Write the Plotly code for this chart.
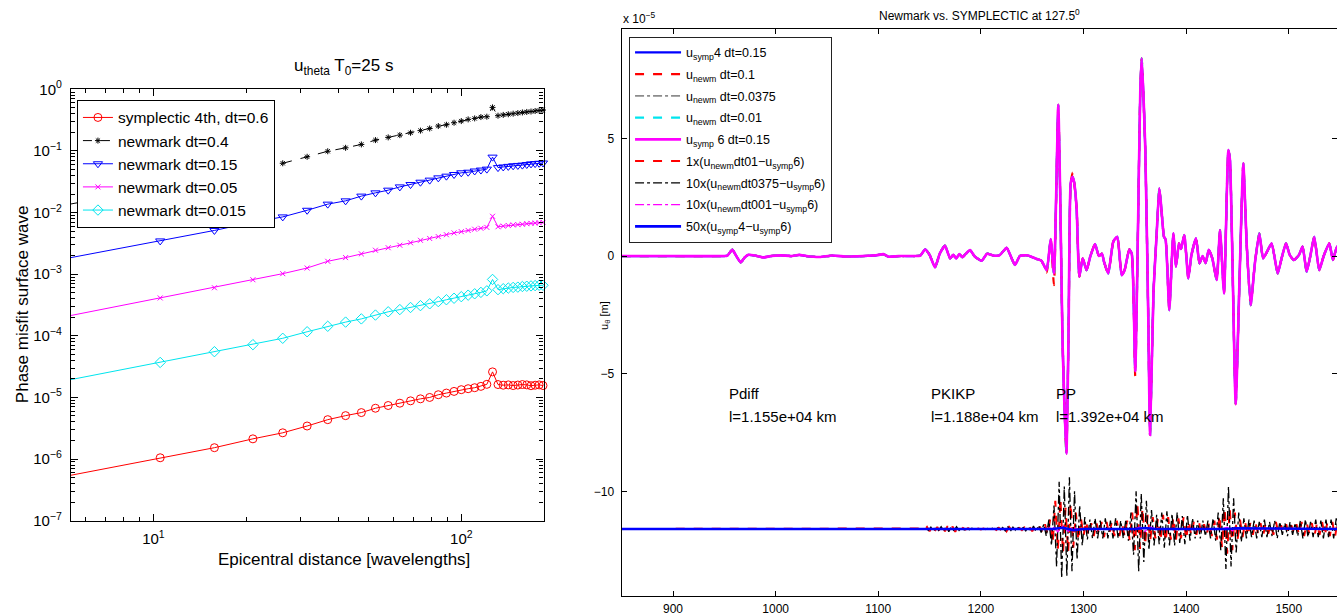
import plotly.graph_objects as go

FONT = "Liberation Sans, Arial, Helvetica, sans-serif"

# ---------------- left panel data ----------------
dist_wavelengths = [5.4, 10.52, 15.78, 21.04, 26.3, 31.56, 36.82, 42.08, 47.34, 52.6,
                    57.86, 63.12, 68.38, 73.64, 78.9, 84.16, 89.42, 94.68, 99.94, 105.2,
                    110.46, 115.72, 120.98, 126.24, 131.5, 136.76, 142.02, 147.28, 152.54, 157.8,
                    163.06, 168.32, 173.58, 178.84, 184.1]

misfit_symp4_dt06 = [5.47e-7, 1.05e-6, 1.53e-6, 2.13e-6, 2.67e-6, 3.44e-6, 4.36e-6, 5.07e-6, 5.68e-6, 6.68e-6,
                     7.40e-6, 8.07e-6, 8.81e-6, 9.5e-6, 1.0e-5, 1.107e-5, 1.178e-5, 1.253e-5, 1.337e-5, 1.387e-5,
                     1.439e-5, 1.514e-5, 1.633e-5, 2.6e-5, 1.62e-5, 1.58e-5, 1.6e-5, 1.56e-5, 1.59e-5, 1.62e-5,
                     1.6e-5, 1.55e-5, 1.58e-5, 1.6e-5, 1.56e-5]

misfit_newm_dt04 = [1.38e-2, 2.57e-2, 3.72e-2, 5.01e-2, 6.31e-2, 8.04e-2, 9.89e-2, 0.1125, 0.1276, 0.15,
                    0.166, 0.1807, 0.1972, 0.2138, 0.2317, 0.2535, 0.2661, 0.2871, 0.3055, 0.3251,
                    0.3373, 0.3548, 0.3597, 0.5093, 0.3733, 0.3846, 0.3936, 0.4027, 0.4121, 0.4217,
                    0.4295, 0.4365, 0.4446, 0.4529, 0.4613]

misfit_newm_dt015 = [1.86e-3, 3.47e-3, 5.13e-3, 6.97e-3, 8.51e-3, 1.09e-2, 1.37e-2, 1.55e-2, 1.85e-2, 2.09e-2,
                     2.31e-2, 2.61e-2, 2.85e-2, 3.11e-2, 3.36e-2, 3.66e-2, 3.90e-2, 4.15e-2, 4.42e-2, 4.52e-2,
                     4.73e-2, 4.9e-2, 5.07e-2, 7.94e-2, 5.37e-2, 5.5e-2, 5.62e-2, 5.75e-2, 5.82e-2, 5.89e-2,
                     6.03e-2, 6.17e-2, 6.24e-2, 6.31e-2, 6.38e-2]

misfit_newm_dt005 = [2.14e-4, 4.12e-4, 6.03e-4, 8.13e-4, 1.02e-3, 1.26e-3, 1.62e-3, 1.86e-3, 2.14e-3, 2.45e-3,
                     2.69e-3, 2.95e-3, 3.24e-3, 3.55e-3, 3.80e-3, 4.07e-3, 4.37e-3, 4.68e-3, 4.90e-3, 5.13e-3,
                     5.37e-3, 5.56e-3, 5.75e-3, 8.71e-3, 5.89e-3, 6.03e-3, 6.17e-3, 6.31e-3, 6.38e-3, 6.46e-3,
                     6.61e-3, 6.68e-3, 6.76e-3, 6.84e-3, 6.92e-3]

misfit_newm_dt0015 = [1.95e-5, 3.7e-5, 5.53e-5, 7.19e-5, 9.12e-5, 1.164e-4, 1.429e-4, 1.671e-4, 1.884e-4, 2.173e-4,
                      2.455e-4, 2.667e-4, 2.884e-4, 3.09e-4, 3.31e-4, 3.59e-4, 3.85e-4, 4.07e-4, 4.32e-4, 4.57e-4,
                      4.81e-4, 5.07e-4, 5.37e-4, 8.22e-4, 5.62e-4, 5.82e-4, 5.96e-4, 6.1e-4, 6.17e-4, 6.31e-4,
                      6.38e-4, 6.46e-4, 6.53e-4, 6.61e-4, 6.61e-4]

left_series = [
    ("symplectic 4th, dt=0.6", misfit_symp4_dt06, "#ff0000", "solid", "circle-open", 8),
    ("newmark dt=0.4", misfit_newm_dt04, "#000000", "dash", "asterisk-open", 5),
    ("newmark dt=0.15", misfit_newm_dt015, "#0000ff", "solid", "triangle-down-open", 8),
    ("newmark dt=0.05", misfit_newm_dt005, "#ff00ff", "solid", "x-thin-open", 5),
    ("newmark dt=0.015", misfit_newm_dt0015, "#00e5ee", "solid", "diamond-open", 8),
]

# ---------------- right panel data (units of 1e-5 m) ----------------
t_main = [850, 900, 950, 953, 957.8, 961, 966, 970, 973.4, 980,
          988, 995, 1005, 1015, 1023, 1030, 1043, 1055, 1070, 1085,
          1098, 1105, 1110, 1120, 1135, 1141, 1145.6, 1150, 1155.3, 1160,
          1165, 1170, 1173, 1176, 1179, 1182, 1185, 1189.4, 1194, 1200.8,
          1206, 1212, 1218, 1225.1, 1229, 1233.2, 1238, 1245, 1254.3, 1259,
          1264.1, 1268, 1271.2, 1275.4, 1277.5, 1279.5, 1283.3, 1285.5, 1287.5, 1289.4,
          1291, 1293.3, 1295.9, 1299.2, 1303, 1306.5, 1311.2, 1315, 1318, 1320,
          1324.1, 1329, 1332.9, 1337.2, 1340, 1344.6, 1347, 1350.4, 1353, 1355.3,
          1356.7, 1360.2, 1363.1, 1364.8, 1368.2, 1371.3, 1373.8, 1375.5, 1378.4, 1380,
          1383.6, 1387.5, 1390.1, 1393, 1395, 1398.2, 1402.1, 1405, 1409.6, 1413,
          1416, 1419, 1422, 1425.5, 1429.8, 1433, 1436.9, 1441.1, 1442.7, 1448.3,
          1452, 1455.7, 1459, 1462.9, 1467, 1471.3, 1475, 1479, 1483.3, 1489.2,
          1493, 1497.3, 1501, 1505, 1510, 1513.5, 1517.4, 1521, 1524.8, 1529.7,
          1534, 1539.5, 1543, 1547, 1550]

u_symp6 = [0, 0, 0, 0.02, 0.27, 0.05, -0.27, -0.05, 0.05, 0.02,
           -0.06, 0, 0.03, 0, 0.05, 0, -0.04, 0.02, -0.02, 0,
           0.03, 0.08, -0.03, 0, 0, 0.02, 0.28, 0.05, -0.48, 0.11,
           0.44, -0.1, 0.05, -0.1, 0.08, -0.05, 0.08, 0.25, -0.02, -0.2,
           0.1, 0.02, 0.03, 0.35, 0, -0.38, 0, 0.03, -0.12, -0.2,
           -0.6, 0.72, -0.74, 6.43, 2.0, -3.5, -8.4, -3.0, 3.09, 3.37,
           3.1, 2.0, -0.88, -0.1, -0.6, -0.03, 0.51, 0, 0.1, -0.25,
           -0.74, 0.61, 0.82, -0.81, -0.6, 0.28, 0.1, -4.9, 1.0, 7.0,
           8.4, 4.5, -2.6, -7.6, -1.5, 0.97, 2.88, 2.2, 0.82, 0.7,
           -2.3, 0.97, -0.45, 0.54, 0.3, 0.89, -0.95, 0, 0.75, -0.31,
           0, -0.3, 0.26, -0.1, -1.02, 1.1, -1.59, 4.51, 4.09, -6.3,
           -1.0, 3.94, 0.5, -2.09, -0.3, 0.96, -0.1, 0.2, 0.54, -0.74,
           -0.1, 0.54, 0.04, -0.17, 0.05, 0.4, -0.67, 0, 0.82, -0.6,
           0, 0.54, -0.17, 0.4, 0.1]

# the other solutions coincide with u_symp6 at this scale, except at a few tips
u_symp4 = u_symp6
u_newm_dt00375 = u_symp6
newm_dt01_tips = {1264.1: -0.7, 1271.2: -1.24, 1289.4: 3.55, 1350.4: -5.1}
newm_dt001_tips = {1271.2: -0.9}
u_newm_dt01 = [newm_dt01_tips.get(t, u) for t, u in zip(t_main, u_symp6)]
u_newm_dt001 = [newm_dt001_tips.get(t, u) for t, u in zip(t_main, u_symp6)]

# difference traces (already scaled), plotted around an offset
diff_offset = -11.6
diff_t0 = 1140.0
diff_dt = 2.5

diff_newm01 = [  # 1x(u_newm dt01 - u_symp6)
    0, 0.02, -0.05, 0.08, -0.1, 0.12, -0.1, 0.08, -0.12, 0.1,
    -0.1, 0.12, -0.08, 0.1, -0.12, 0.08, -0.05, 0.04, -0.03, 0.03,
    -0.03, 0.02, -0.02, 0.02, -0.02, 0.02, -0.02, 0.02, -0.03, 0.03,
    -0.04, 0.05, -0.06, 0.08, -0.1, 0.08, -0.06, 0.05, -0.04, 0.04,
    -0.05, 0.06, -0.08, 0.08, -0.1, 0.1, -0.12, 0.1, -0.15, 0.2,
    -0.25, 0.4, -0.6, 1.2, -0.9, 1.3, -1.05, 0.9, -1.0, 1.1,
    -0.8, 0.7, -0.5, 0.45, -0.3, 0.35, -0.3, 0.25, -0.3, 0.3,
    -0.25, 0.3, -0.35, 0.3, -0.25, 0.3, -0.3, 0.35, -0.3, 0.25,
    -0.3, 0.35, -0.5, 0.7, -0.9, 1.1, -0.85, 0.9, -0.7, 0.6,
    -0.5, 0.5, -0.4, 0.45, -0.5, 0.6, -0.55, 0.5, -0.45, 0.5,
    -0.5, 0.45, -0.4, 0.5, -0.45, 0.35, -0.3, 0.3, -0.25, 0.3,
    -0.25, 0.2, -0.25, 0.3, -0.3, 0.35, -0.45, 0.6, -0.8, 0.9,
    -1.05, 0.9, -0.9, 0.7, -0.5, 0.4, -0.35, 0.3, -0.3, 0.25,
    -0.25, 0.3, -0.2, 0.25, -0.3, 0.25, -0.2, 0.2, -0.25, 0.3,
    -0.2, 0.15, -0.15, 0.2, -0.2, 0.15, -0.15, 0.2, -0.25, 0.3,
    -0.3, 0.25, -0.2, 0.25, -0.3, 0.25, -0.25, 0.3, -0.3, 0.25,
    -0.3, 0.3, -0.35, 0.3]

diff_newm00375 = [  # 10x(u_newm dt0375 - u_symp6)
    0, -0.02, 0.04, -0.06, 0.08, -0.1, 0.08, -0.06, 0.1, -0.08,
    0.1, -0.12, 0.1, -0.08, 0.1, -0.06, 0.05, -0.04, 0.03, -0.03,
    0.03, -0.02, 0.02, -0.02, 0.02, -0.02, 0.02, -0.02, 0.03, -0.03,
    0.04, -0.05, 0.06, -0.08, 0.1, -0.1, 0.08, -0.06, 0.05, -0.05,
    0.06, -0.08, 0.1, -0.1, 0.12, -0.12, 0.15, -0.15, 0.2, -0.3,
    0.4, -0.7, 1.0, -1.6, 2.0, -2.1, 1.8, -2.0, 2.2, -1.8,
    1.6, -1.3, 1.0, -0.7, 0.5, -0.45, 0.4, -0.4, 0.45, -0.4,
    0.35, -0.4, 0.45, -0.4, 0.35, -0.4, 0.45, -0.4, 0.35, -0.4,
    0.4, -0.5, 0.7, -1.1, 1.6, -1.8, 1.5, -1.4, 1.2, -0.9,
    0.8, -0.7, 0.6, -0.65, 0.7, -0.8, 0.75, -0.7, 0.65, -0.7,
    0.7, -0.6, 0.55, -0.65, 0.6, -0.5, 0.45, -0.4, 0.35, -0.4,
    0.35, -0.3, 0.35, -0.4, 0.45, -0.5, 0.7, -0.9, 1.3, -1.7,
    1.8, -1.6, 1.3, -1.0, 0.7, -0.55, 0.45, -0.4, 0.4, -0.35,
    0.35, -0.4, 0.3, -0.35, 0.4, -0.35, 0.3, -0.3, 0.35, -0.4,
    0.3, -0.25, 0.25, -0.3, 0.3, -0.25, 0.25, -0.3, 0.35, -0.4,
    0.4, -0.35, 0.3, -0.35, 0.4, -0.35, 0.35, -0.4, 0.4, -0.35,
    0.4, -0.4, 0.45, -0.4]

t_diff_newm001 = [850, 1265, 1270, 1275, 1280, 1285, 1290, 1295, 1300, 1350, 1355, 1360, 1365, 1370,
                  1435, 1440, 1445, 1450, 1547]
diff_newm001 = [0, 0, 0.1, -0.12, 0.12, -0.1, 0.08, -0.05, 0, 0, 0.08, -0.1, 0.08, 0,
                0, 0.07, -0.08, 0, 0]

t_diff_symp4 = [850, 1270, 1280, 1290, 1300, 1350, 1360, 1370, 1440, 1450, 1547]
diff_symp4 = [0, 0, 0.05, -0.05, 0, 0, 0.04, 0, 0, 0.03, 0]

# ---------------- figure ----------------
fig = go.Figure()

for i, (name, vals, col, dash, sym, msize) in enumerate(left_series):
    fig.add_trace(go.Scatter(
        x=dist_wavelengths, y=vals, name=name, mode="lines+markers",
        line=dict(color=col, width=1, dash=dash),
        marker=dict(symbol=sym, size=msize, color=col, line=dict(color=col, width=1)),
        xaxis="x", yaxis="y", legend="legend", cliponaxis=False))

main_traces = [
    ("u<sub>symp</sub>4 dt=0.15", u_symp4, "#0000ff", "solid", 2.2),
    ("u<sub>newm</sub> dt=0.1", u_newm_dt01, "#ff0000", "dash", 2.2),
    ("u<sub>newm</sub> dt=0.0375", u_newm_dt00375, "#8c8c8c", "dashdot", 1.6),
    ("u<sub>newm</sub> dt=0.01", u_newm_dt001, "#00e5ee", "dash", 2.2),
    ("u<sub>symp</sub> 6 dt=0.15", u_symp6, "#ff00ff", "solid", 2.6),
]
for k, (name, vals, col, dash, w) in enumerate(main_traces):
    fig.add_trace(go.Scatter(x=t_main, y=vals, name=name, mode="lines",
                             line=dict(color=col, width=w, dash=dash, shape="spline", smoothing=0.5),
                             xaxis="x2", yaxis="y2", legend="legend2", legendgroup="m%d" % k))

t_red = [850.0] + [diff_t0 + diff_dt * i for i in range(len(diff_newm01))]
y_red = [diff_offset] + [diff_offset + v for v in diff_newm01]
t_blk = [850.0] + [diff_t0 + 1.25 + diff_dt * i for i in range(len(diff_newm00375))]
y_blk = [diff_offset] + [diff_offset + v for v in diff_newm00375]

fig.add_trace(go.Scatter(x=t_red, y=y_red, name="1x(u<sub>newm</sub>dt01\u2212u<sub>symp</sub>6)",
                         mode="lines", line=dict(color="#ff0000", width=2, dash="dash"),
                         xaxis="x2", yaxis="y2", legend="legend2", legendgroup="d1"))
fig.add_trace(go.Scatter(x=t_blk, y=y_blk, name="10x(u<sub>newm</sub>dt0375\u2212u<sub>symp</sub>6)",
                         mode="lines", line=dict(color="#000000", width=1.3, dash="dashdot"),
                         xaxis="x2", yaxis="y2", legend="legend2", legendgroup="d2"))
fig.add_trace(go.Scatter(x=t_diff_newm001, y=[diff_offset + v for v in diff_newm001],
                         name="10x(u<sub>newm</sub>dt001\u2212u<sub>symp</sub>6)",
                         mode="lines", line=dict(color="#ff00ff", width=1.3, dash="dashdot"),
                         xaxis="x2", yaxis="y2", legend="legend2", legendgroup="d3"))
fig.add_trace(go.Scatter(x=t_diff_symp4, y=[diff_offset + v for v in diff_symp4],
                         name="50x(u<sub>symp</sub>4\u2212u<sub>symp</sub>6)",
                         mode="lines", line=dict(color="#0000ff", width=2.6),
                         xaxis="x2", yaxis="y2", legend="legend2", legendgroup="d4"))

# minor tick positions for log axes
minor_x = [6, 7, 8, 9, 20, 30, 40, 50, 60, 70, 80, 90]
minor_y = [m * 10.0 ** e for e in range(-7, 0) for m in range(2, 10)]

axis_common = dict(showline=True, linecolor="black", linewidth=1.3, mirror="ticks",
                   ticks="inside", tickcolor="black", showgrid=False, zeroline=False)

fig.update_layout(
    width=1337, height=615,
    margin=dict(l=71, r=0, t=29, b=19),
    paper_bgcolor="white", plot_bgcolor="white",
    font=dict(family=FONT, color="black"),
    xaxis=dict(axis_common, type="log", range=[0.7324, 2.267], domain=[0, 0.3733], anchor="y",
               tickvals=[10, 100], ticktext=["10<sup>1</sup>", "10<sup>2</sup>"], ticklen=7,
               tickfont=dict(size=15, family=FONT), ticklabelstandoff=4,
               minor=dict(tickvals=minor_x, ticks="inside", ticklen=4, tickcolor="black")),
    yaxis=dict(axis_common, type="log", range=[-7, 0], domain=[0.1328, 0.8936], anchor="x",
               tickvals=[1e-7, 1e-6, 1e-5, 1e-4, 1e-3, 1e-2, 1e-1, 1],
               ticktext=["10<sup>\u22127</sup>", "10<sup>\u22126</sup>", "10<sup>\u22125</sup>",
                         "10<sup>\u22124</sup>", "10<sup>\u22123</sup>", "10<sup>\u22122</sup>",
                         "10<sup>\u22121</sup>", "10<sup>0</sup>"],
               ticklen=7, tickfont=dict(size=15, family=FONT), ticklabelstandoff=5,
               minor=dict(tickvals=minor_y, ticks="inside", ticklen=4, tickcolor="black")),
    xaxis2=dict(axis_common, range=[850, 1547], domain=[0.435, 1], anchor="y2",
                tickvals=[900, 1000, 1100, 1200, 1300, 1400, 1500], ticklen=5,
                tickfont=dict(size=12, family=FONT), ticklabelstandoff=1),
    yaxis2=dict(axis_common, range=[-14.45, 9.65], domain=[0, 1], anchor="x2",
                tickvals=[-10, -5, 0, 5], ticklen=5, tickfont=dict(size=12, family=FONT),
                ticklabelstandoff=4),
    legend=dict(x=0.0047, y=0.875, xanchor="left", yanchor="top", xref="paper", yref="paper",
                bgcolor="white", bordercolor="black", borderwidth=1,
                font=dict(size=15.5, family=FONT), tracegroupgap=0),
    legend2=dict(x=0.4408, y=0.9864, xanchor="left", yanchor="top", xref="paper", yref="paper",
                 bgcolor="white", bordercolor="#222222", borderwidth=1, itemwidth=46,
                 font=dict(size=12.5, family=FONT), tracegroupgap=2.5),
    showlegend=True,
)

annotations = [
    dict(text="u<sub>theta</sub> T<sub>0</sub>=25 s", x=0.2155, y=0.9335, xref="paper", yref="paper",
         showarrow=False, font=dict(size=17), xanchor="center", yanchor="middle"),
    dict(text="Phase misfit surface wave", x=-0.0387, y=0.513, xref="paper", yref="paper",
         showarrow=False, font=dict(size=17), textangle=-90, xanchor="center", yanchor="middle"),
    dict(text="Epicentral distance [wavelengths]", x=0.2159, y=0.0635, xref="paper", yref="paper",
         showarrow=False, font=dict(size=17), xanchor="center", yanchor="middle"),
    dict(text="Newmark vs. SYMPLECTIC at 127.5<sup>0</sup>", x=0.718, y=1.0247, xref="paper",
         yref="paper", showarrow=False, font=dict(size=12), xanchor="center", yanchor="middle"),
    dict(text="x 10<sup>\u22125</sup>", x=0.4344, y=1.0194, xref="paper", yref="paper",
         showarrow=False, font=dict(size=12), xanchor="left", yanchor="middle"),
    dict(text="u<sub>\u03b8</sub> [m]", x=0.4218, y=0.4956, xref="paper", yref="paper",
         showarrow=False, font=dict(size=11), textangle=-90, xanchor="center", yanchor="middle"),
]
phase_labels = [("Pdiff", "l=1.155e+04 km", 952.6), ("PKIKP", "l=1.188e+04 km", 1149.4),
                ("PP", "l=1.392e+04 km", 1270.9)]
for ph, dist_txt, tx in phase_labels:
    annotations.append(dict(text=ph, x=tx, y=-5.84, xref="x2", yref="y2", showarrow=False,
                            font=dict(size=15), xanchor="left", yanchor="middle"))
    annotations.append(dict(text=dist_txt, x=tx, y=-6.84, xref="x2", yref="y2", showarrow=False,
                            font=dict(size=15), xanchor="left", yanchor="middle"))
fig.update_layout(annotations=annotations)

fig.write_html("out.html", config={"displayModeBar": False},
               post_script="document.body.style.margin='0';document.body.style.overflow='hidden';")
